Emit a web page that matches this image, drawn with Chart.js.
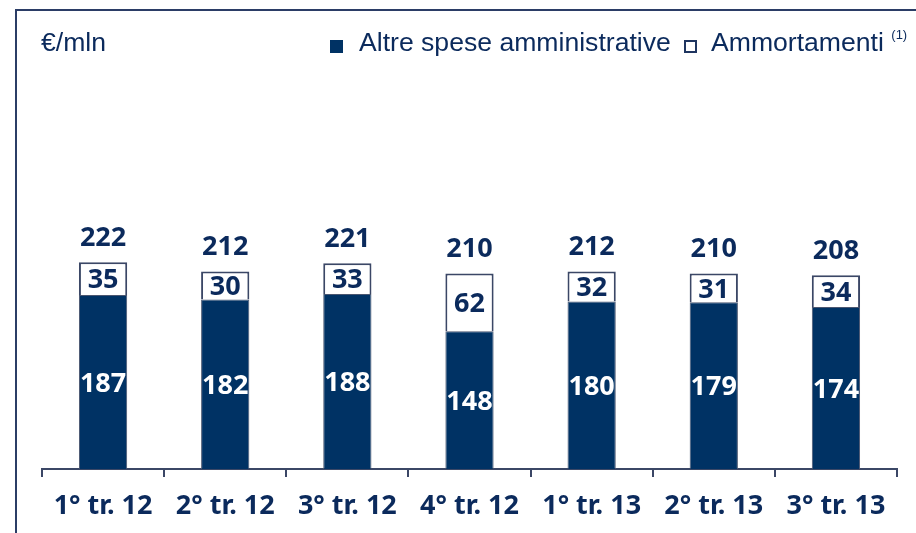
<!DOCTYPE html>
<html>
<head>
<meta charset="utf-8">
<script src="https://cdn.jsdelivr.net/npm/chart.js@4"></script>
<style>
  html, body { margin: 0; padding: 0; background: #fff; }
  #wrap { position: relative; width: 916px; height: 533px; overflow: hidden; }
  #frame { position: absolute; left: 15px; top: 9px; width: 960px; height: 600px;
           border-top: 2px solid #2b3d66; border-left: 2px solid #2b3d66; }
  canvas { position: absolute; left: 0; top: 0; }
  .txt { position: absolute; color: #0b2a5c; font-family: 'Liberation Sans', Arial, sans-serif; font-size: 26.6px; white-space: nowrap; }
  .box { position: absolute; width: 13px; height: 13px; box-sizing: border-box; }
  sup { font-size: 13px; position: relative; top: -2px; }
</style>
</head>
<body>
<div id="wrap">
  <div id="frame"></div>
  <canvas id="chart" width="916" height="533"></canvas>
  <div class="txt" style="left:41px; top:27px;">€/mln</div>
  <div class="box" style="left:330px; top:40px; background:#003264;"></div>
  <div class="txt" style="left:359px; top:27px;">Altre spese amministrative</div>
  <div class="box" style="left:684px; top:40px; border:2px solid #1f3560; background:#fff;"></div>
  <div class="txt" style="left:711px; top:27px;">Ammortamenti <sup>(1)</sup></div>
</div>
<script>
// dati
const categories = ['1° tr. 12', '2° tr. 12', '3° tr. 12', '4° tr. 12', '1° tr. 13', '2° tr. 13', '3° tr. 13'];
const altreSpese = [187, 182, 188, 148, 180, 179, 174];
const ammortamenti = [35, 30, 33, 62, 32, 31, 34];
const totali = [222, 212, 221, 210, 212, 210, 208];

const NAVY = '#003264';
const TEXT = '#0b2a5c';
const BOLD = "'Noto Sans', 'DejaVu Sans', sans-serif";

// etichette dentro le barre e totali sopra
const valueLabels = {
  id: 'valueLabels',
  afterDatasetsDraw(chart) {
    const ctx = chart.ctx;
    ctx.save();
    ctx.textAlign = 'center';
    ctx.textBaseline = 'middle';
    ctx.font = 'bold 27px ' + BOLD;
    chart.data.datasets.forEach((ds, i) => {
      const meta = chart.getDatasetMeta(i);
      meta.data.forEach((bar, j) => {
        ctx.fillStyle = i === 0 ? '#ffffff' : TEXT;
        ctx.fillText(ds.data[j], bar.x, (bar.y + bar.base) / 2 + 2);
      });
    });
    const top = chart.getDatasetMeta(1);
    ctx.fillStyle = TEXT;
    top.data.forEach((bar, j) => {
      ctx.fillText(totali[j], bar.x, bar.y - 24);
    });
    ctx.restore();
  }
};

new Chart(document.getElementById('chart'), {
  type: 'bar',
  data: {
    labels: categories,
    datasets: [
      {
        label: 'Altre spese amministrative',
        data: altreSpese,
        backgroundColor: NAVY,
        borderColor: '#4a5670',
        borderWidth: 1,
        barPercentage: 0.395,
        categoryPercentage: 1
      },
      {
        label: 'Ammortamenti',
        data: ammortamenti,
        backgroundColor: '#ffffff',
        borderColor: '#3b4766',
        borderWidth: 2,
        barPercentage: 0.395,
        categoryPercentage: 1
      }
    ]
  },
  options: {
    responsive: false,
    animation: false,
    layout: { padding: { left: 42, right: 19, top: 50, bottom: 0 } },
    plugins: {
      legend: { display: false },
      tooltip: { enabled: false }
    },
    scales: {
      x: {
        stacked: true,
        afterFit: s => { s.height = 64; },
        grid: { display: true, drawOnChartArea: false, tickLength: 8, color: '#3b4766', lineWidth: 2 },
        border: { display: true, color: '#3b4766', width: 2 },
        ticks: { color: TEXT, font: { family: BOLD, size: 27, weight: 'bold' }, padding: 13 }
      },
      y: {
        stacked: true,
        display: false,
        min: 0,
        max: 450
      }
    }
  },
  plugins: [valueLabels]
});
</script>
</body>
</html>
